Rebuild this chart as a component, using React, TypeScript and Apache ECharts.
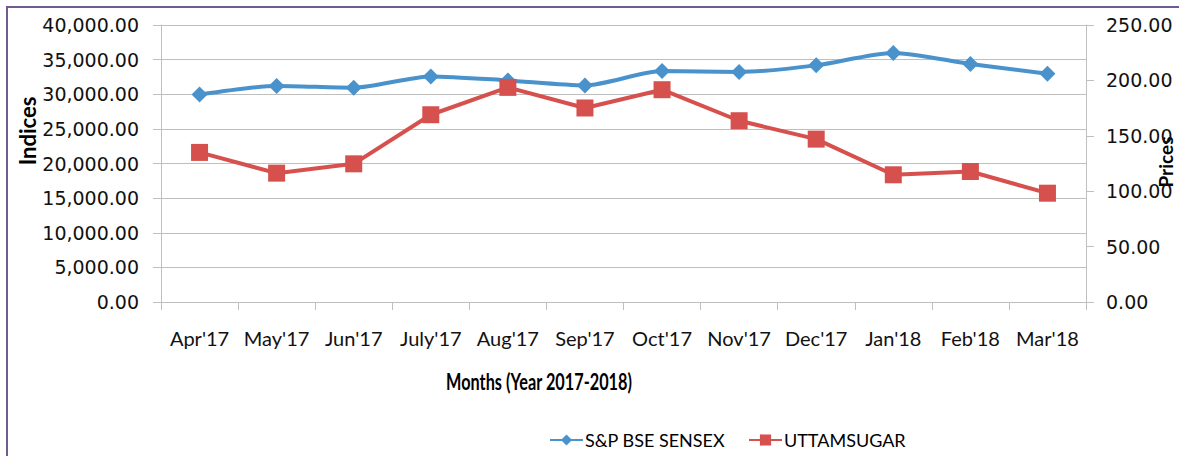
import React, { useEffect, useRef } from "react";
import * as echarts from "echarts";

const months = ["Apr'17", "May'17", "Jun'17", "July'17", "Aug'17", "Sep'17", "Oct'17", "Nov'17", "Dec'17", "Jan'18", "Feb'18", "Mar'18"];
const sensex = [29950, 31200, 30950, 32580, 32000, 31280, 33360, 33220, 34170, 35960, 34370, 32970];
const uttam = [135.0, 116.3, 124.7, 169.0, 193.7, 175.1, 191.6, 163.6, 147.0, 114.8, 117.8, 98.2];
const leftTicks = { min: 0, max: 40000, interval: 5000 };
const rightTicks = { min: 0, max: 250, interval: 50 };

const BLUE = "#4a92cb";
const RED = "#d6514d";
const GRID = "#bfbfbf";
const SANS = "Lato, sans-serif";

export default function App() {
  const ref = useRef<HTMLDivElement>(null);
  useEffect(() => {
    document.body.style.margin = "0";
    const chart = echarts.init(ref.current!, null, { renderer: "svg" });
    const fmt = (v: number) =>
      v.toLocaleString("en-US", { minimumFractionDigits: 2, maximumFractionDigits: 2 });
    chart.setOption({
      animation: false,
      backgroundColor: "#ffffff",
      grid: { left: 161, right: 93, top: 25, bottom: 154, containLabel: false },
      legend: [
        {
          data: ["S&P BSE SENSEX"],
          left: 549,
          top: 431,
          padding: 0,
          itemWidth: 33,
          itemHeight: 14,
          itemGap: 2,
          textStyle: { fontFamily: SANS, fontSize: 18, color: "#000", padding: [0, 0, 0, -3] },
        },
        {
          data: ["UTTAMSUGAR"],
          left: 748,
          top: 431,
          padding: 0,
          itemWidth: 33,
          itemHeight: 14,
          textStyle: { fontFamily: SANS, fontSize: 18, color: "#000", padding: [0, 0, 0, -3] },
        },
      ],
      xAxis: {
        type: "category",
        data: months,
        boundaryGap: true,
        axisLine: { lineStyle: { color: GRID, width: 1 } },
        axisTick: { show: true, length: 8, interval: 0, lineStyle: { color: GRID } },
        axisLabel: { interval: 0, fontFamily: SANS, fontSize: 20, color: "#111", margin: 26 },
      },
      yAxis: [
        {
          type: "value",
          ...leftTicks,
          axisLine: { show: true, lineStyle: { color: GRID } },
          axisTick: { show: true, length: 8, lineStyle: { color: GRID } },
          splitLine: { show: true, lineStyle: { color: GRID, width: 1 } },
          axisLabel: { fontFamily: "'DejaVu Sans', sans-serif", fontSize: 19, color: "#111", margin: 22, formatter: fmt },
        },
        {
          type: "value",
          ...rightTicks,
          position: "right",
          axisLine: { show: true, lineStyle: { color: GRID } },
          axisTick: { show: true, length: 8, lineStyle: { color: GRID } },
          splitLine: { show: false },
          axisLabel: { fontFamily: "'DejaVu Sans', sans-serif", fontSize: 19, color: "#111", margin: 20, formatter: fmt },
        },
      ],
      series: [
        {
          name: "S&P BSE SENSEX",
          type: "line",
          yAxisIndex: 0,
          data: sensex,
          smooth: 0.25,
          symbol: "diamond",
          symbolSize: 16,
          lineStyle: { color: BLUE, width: 4 },
          itemStyle: { color: BLUE },
        },
        {
          name: "UTTAMSUGAR",
          type: "line",
          yAxisIndex: 1,
          data: uttam,
          symbol: "rect",
          symbolSize: 17,
          lineStyle: { color: RED, width: 4 },
          itemStyle: { color: RED },
          z: 3,
        },
      ],
      graphic: [
        {
          type: "rect",
          shape: { x: 7, y: 7, width: 1300, height: 600 },
          style: { fill: "none", stroke: "#6f5a92", lineWidth: 2 },
          silent: true,
        },
        {
          type: "text",
          x: 539,
          y: 381,
          scaleX: 0.74,
          style: {
            text: "Months (Year 2017-2018)",
            fontFamily: SANS,
            fontWeight: "bold",
            fontSize: 22,
            fill: "#000",
            align: "center",
            verticalAlign: "middle",
          },
        },
        {
          type: "text",
          x: 27,
          y: 131,
          rotation: Math.PI / 2,
          style: {
            text: "Indices",
            fontFamily: SANS,
            fontWeight: "bold",
            fontSize: 22,
            fill: "#000",
            align: "center",
            verticalAlign: "middle",
          },
        },
        {
          type: "text",
          x: 1165,
          y: 162,
          rotation: Math.PI / 2,
          style: {
            text: "Prices",
            fontFamily: SANS,
            fontWeight: "bold",
            fontSize: 19,
            fill: "#000",
            align: "center",
            verticalAlign: "middle",
          },
        },
      ],
    });
    return () => chart.dispose();
  }, []);
  return <div ref={ref} style={{ width: 1179, height: 456 }} />;
}
